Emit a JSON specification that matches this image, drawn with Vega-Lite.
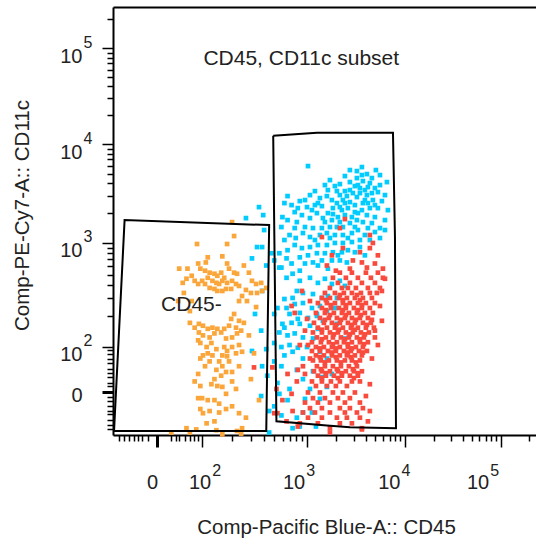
{
"$schema":"https://vega.github.io/schema/vega-lite/v6.json",
"width":423,"height":428,
"autosize":"none",
"padding":{"left":113,"top":7,"right":0,"bottom":104},
"background":"white",
"config":{"view":{"stroke":null},"font":"Liberation Sans"},
"datasets":{
"CD11c_hi":[
{"CD45":1031,"CD11c":5985},{"CD45":3249,"CD11c":5326},{"CD45":4106,"CD11c":4966},{"CD45":3249,"CD11c":4524},{"CD45":6555,"CD11c":4122},{"CD45":2180,"CD11c":3934},{"CD45":4400,"CD11c":4027},{"CD45":4950,"CD11c":3583},{"CD45":1214,"CD11c":3341},{"CD45":2034,"CD11c":3341},{"CD45":2453,"CD11c":3341},{"CD45":3486,"CD11c":3583},{"CD45":3739,"CD11c":4219},{"CD45":5309,"CD11c":3264},{"CD45":664,"CD11c":2974},{"CD45":863,"CD11c":2646},{"CD45":621,"CD11c":2525},{"CD45":724,"CD11c":2410},{"CD45":827,"CD11c":2247},{"CD45":1007,"CD11c":2300},{"CD45":1132,"CD11c":2144},{"CD45":1430,"CD11c":2354},{"CD45":1608,"CD11c":2974},{"CD45":1809,"CD11c":2710},{"CD45":2034,"CD11c":2525},{"CD45":2340,"CD11c":2710},{"CD45":2757,"CD11c":2585},{"CD45":3249,"CD11c":2905},{"CD45":3486,"CD11c":3189},{"CD45":4106,"CD11c":3043},{"CD45":4723,"CD11c":2710},{"CD45":5830,"CD11c":2646},{"CD45":5309,"CD11c":2247},{"CD45":4400,"CD11c":2247},{"CD45":3739,"CD11c":2525},{"CD45":3100,"CD11c":2410},{"CD45":2631,"CD11c":2247},{"CD45":2286,"CD11c":2144},{"CD45":1852,"CD11c":2247},{"CD45":1646,"CD11c":1999},{"CD45":1464,"CD11c":1779},{"CD45":1809,"CD11c":1698},{"CD45":2082,"CD11c":1821},{"CD45":2453,"CD11c":1908},{"CD45":2890,"CD11c":1821},{"CD45":3326,"CD11c":1999},{"CD45":4106,"CD11c":1908},{"CD45":4950,"CD11c":1821},{"CD45":6262,"CD11c":1698},{"CD45":5570,"CD11c":1409},{"CD45":4613,"CD11c":1584},{"CD45":3739,"CD11c":1621},{"CD45":3249,"CD11c":1698},{"CD45":2757,"CD11c":1584},{"CD45":2340,"CD11c":1443},{"CD45":2034,"CD11c":1443},{"CD45":1727,"CD11c":1443},{"CD45":1430,"CD11c":1409},{"CD45":1159,"CD11c":1409},{"CD45":964,"CD11c":1443},{"CD45":810,"CD11c":1621},{"CD45":664,"CD11c":1698},{"CD45":595,"CD11c":1821},{"CD45":582,"CD11c":1443},{"CD45":693,"CD11c":1197},{"CD45":774,"CD11c":1409},{"CD45":923,"CD11c":1254},{"CD45":1080,"CD11c":1142},{"CD45":1365,"CD11c":1197},{"CD45":1608,"CD11c":1254},{"CD45":1941,"CD11c":1197},{"CD45":2340,"CD11c":1197},{"CD45":2890,"CD11c":1254},{"CD45":3326,"CD11c":1345},{"CD45":3917,"CD11c":1197},{"CD45":3486,"CD11c":1065},{"CD45":2890,"CD11c":1016},{"CD45":2340,"CD11c":994},{"CD45":1941,"CD11c":994},{"CD45":1608,"CD11c":951},{"CD45":1302,"CD11c":951},{"CD45":1080,"CD11c":910},{"CD45":903,"CD11c":890},{"CD45":774,"CD11c":951},{"CD45":664,"CD11c":851},{"CD45":557,"CD11c":797},{"CD45":499,"CD11c":682},{"CD45":863,"CD11c":729},{"CD45":1031,"CD11c":762},{"CD45":1272,"CD11c":797},{"CD45":1535,"CD11c":797},{"CD45":1852,"CD11c":814},{"CD45":2286,"CD11c":814},{"CD45":2631,"CD11c":851},{"CD45":3100,"CD11c":814},{"CD45":1159,"CD11c":653},{"CD45":1430,"CD11c":682},{"CD45":1809,"CD11c":682},{"CD45":2180,"CD11c":682},{"CD45":2570,"CD11c":653},{"CD45":964,"CD11c":638},{"CD45":724,"CD11c":638},{"CD45":557,"CD11c":584},{"CD45":469,"CD11c":797},{"CD45":384,"CD11c":910},{"CD45":359,"CD11c":2300},
{"CD45":2453,"CD11c":4740},{"CD45":2757,"CD11c":4122},{"CD45":3100,"CD11c":3754},{"CD45":3917,"CD11c":3420},{"CD45":4613,"CD11c":4524},{"CD45":5570,"CD11c":3843},{"CD45":2570,"CD11c":2974},{"CD45":2958,"CD11c":3189},{"CD45":1941,"CD11c":3754},{"CD45":1646,"CD11c":3420},{"CD45":1365,"CD11c":2838},{"CD45":1302,"CD11c":2525},{"CD45":2180,"CD11c":2300},{"CD45":3652,"CD11c":2144},{"CD45":4203,"CD11c":2525},{"CD45":4950,"CD11c":2410},{"CD45":6710,"CD11c":2144},{"CD45":6262,"CD11c":3043},{"CD45":5570,"CD11c":4852},{"CD45":5066,"CD11c":5452},{"CD45":3652,"CD11c":5847},{"CD45":2757,"CD11c":5452},{"CD45":1727,"CD11c":4317},{"CD45":1535,"CD11c":3843},{"CD45":1080,"CD11c":3043},{"CD45":964,"CD11c":2710},{"CD45":774,"CD11c":2046},{"CD45":903,"CD11c":1908},{"CD45":1080,"CD11c":1779},{"CD45":1272,"CD11c":1999},{"CD45":1535,"CD11c":1621},{"CD45":2180,"CD11c":1621},{"CD45":3100,"CD11c":1443},{"CD45":4203,"CD11c":1409},{"CD45":4950,"CD11c":1284},{"CD45":4400,"CD11c":1065},{"CD45":5570,"CD11c":1116},{"CD45":6262,"CD11c":1345},{"CD45":2631,"CD11c":1116},{"CD45":1727,"CD11c":1116},{"CD45":1214,"CD11c":1065},{"CD45":791,"CD11c":1116},{"CD45":621,"CD11c":1065},{"CD45":3486,"CD11c":910},{"CD45":3917,"CD11c":762},{"CD45":2082,"CD11c":762},{"CD45":1302,"CD11c":611},{"CD45":1646,"CD11c":571},{"CD45":863,"CD11c":546},{"CD45":650,"CD11c":713},{"CD45":3100,"CD11c":2046},{"CD45":2453,"CD11c":2525},{"CD45":1852,"CD11c":1953},{"CD45":3917,"CD11c":2710},{"CD45":4613,"CD11c":3189},{"CD45":3326,"CD11c":3843},{"CD45":2180,"CD11c":3043},{"CD45":1214,"CD11c":2410},{"CD45":2757,"CD11c":3420},{"CD45":3652,"CD11c":4852},{"CD45":4203,"CD11c":3668},
{"CD45":582,"CD11c":584},{"CD45":650,"CD11c":468},{"CD45":740,"CD11c":511},{"CD45":863,"CD11c":438},{"CD45":1080,"CD11c":468},{"CD45":1302,"CD11c":419},{"CD45":1535,"CD11c":458},{"CD45":1809,"CD11c":409},{"CD45":2180,"CD11c":438},{"CD45":2453,"CD11c":392},{"CD45":810,"CD11c":351},{"CD45":923,"CD11c":336},{"CD45":1159,"CD11c":328},{"CD45":1430,"CD11c":301},{"CD45":1646,"CD11c":314},{"CD45":2034,"CD11c":301},{"CD45":740,"CD11c":301},{"CD45":621,"CD11c":294},{"CD45":534,"CD11c":241},{"CD45":650,"CD11c":241},{"CD45":774,"CD11c":263},{"CD45":923,"CD11c":269},{"CD45":1132,"CD11c":241},{"CD45":1365,"CD11c":252},{"CD45":1608,"CD11c":225},{"CD45":1941,"CD11c":241},{"CD45":693,"CD11c":211},{"CD45":863,"CD11c":216},{"CD45":1031,"CD11c":193},{"CD45":1272,"CD11c":202},{"CD45":1464,"CD11c":181},{"CD45":595,"CD11c":169},{"CD45":724,"CD11c":173},{"CD45":863,"CD11c":169},{"CD45":1080,"CD11c":162},{"CD45":1302,"CD11c":151},{"CD45":557,"CD11c":139},{"CD45":664,"CD11c":130},{"CD45":774,"CD11c":136},{"CD45":923,"CD11c":124},{"CD45":1159,"CD11c":121},{"CD45":499,"CD11c":109},{"CD45":582,"CD11c":99},{"CD45":693,"CD11c":104},{"CD45":827,"CD11c":97},{"CD45":1007,"CD11c":99},{"CD45":621,"CD11c":77},{"CD45":740,"CD11c":86},{"CD45":923,"CD11c":70},{"CD45":1608,"CD11c":70},{"CD45":1365,"CD11c":86},{"CD45":582,"CD11c":55},{"CD45":810,"CD11c":48},{"CD45":1159,"CD11c":44},{"CD45":1430,"CD11c":30},{"CD45":923,"CD11c":26},{"CD45":534,"CD11c":19},{"CD45":693,"CD11c":4},{"CD45":1080,"CD11c":4},{"CD45":1608,"CD11c":8},{"CD45":964,"CD11c":-14},{"CD45":1365,"CD11c":-14},{"CD45":557,"CD11c":-3},{"CD45":664,"CD11c":-18},{"CD45":810,"CD11c":-56},{"CD45":740,"CD11c":-78},{"CD45":621,"CD11c":155},{"CD45":827,"CD11c":189},{"CD45":1272,"CD11c":211},{"CD45":2034,"CD11c":169},{"CD45":1809,"CD11c":37},{"CD45":923,"CD11c":-45},{"CD45":499,"CD11c":-30},{"CD45":2453,"CD11c":121},
{"CD45":393,"CD11c":1908},{"CD45":270,"CD11c":1779},{"CD45":401,"CD11c":1345},{"CD45":344,"CD11c":910},{"CD45":308,"CD11c":713},{"CD45":329,"CD11c":211},{"CD45":308,"CD11c":88},{"CD45":384,"CD11c":55},{"CD45":376,"CD11c":-7},{"CD45":447,"CD11c":-41},{"CD45":384,"CD11c":351},{"CD45":376,"CD11c":145},{"CD45":499,"CD11c":211},{"CD45":420,"CD11c":93},{"CD45":499,"CD11c":64},{"CD45":429,"CD11c":33},{"CD45":420,"CD11c":611},{"CD45":447,"CD11c":-89},{"CD45":1243,"CD11c":-74},{"CD45":582,"CD11c":-52},{"CD45":863,"CD11c":-74},{"CD45":1132,"CD11c":-45}
],
"CD11c_lo":[
{"CD45":2180,"CD11c":523},{"CD45":2890,"CD11c":523},{"CD45":4010,"CD11c":523},{"CD45":5309,"CD11c":523},
{"CD45":1852,"CD11c":468},{"CD45":2510,"CD11c":468},{"CD45":3326,"CD11c":468},{"CD45":4506,"CD11c":468},{"CD45":5970,"CD11c":468},
{"CD45":2082,"CD11c":419},{"CD45":2757,"CD11c":419},{"CD45":3652,"CD11c":419},{"CD45":4950,"CD11c":419},
{"CD45":1727,"CD11c":375},{"CD45":2286,"CD11c":375},{"CD45":2631,"CD11c":375},{"CD45":3173,"CD11c":375},{"CD45":4203,"CD11c":375},{"CD45":5570,"CD11c":375},
{"CD45":1535,"CD11c":336},{"CD45":1941,"CD11c":336},{"CD45":2395,"CD11c":336},{"CD45":2890,"CD11c":336},{"CD45":3568,"CD11c":336},{"CD45":4400,"CD11c":336},{"CD45":5186,"CD11c":336},
{"CD45":1430,"CD11c":301},{"CD45":1727,"CD11c":301},{"CD45":2131,"CD11c":301},{"CD45":2570,"CD11c":301},{"CD45":3100,"CD11c":301},{"CD45":3739,"CD11c":301},{"CD45":4613,"CD11c":301},
{"CD45":1302,"CD11c":269},{"CD45":1608,"CD11c":269},{"CD45":1941,"CD11c":269},{"CD45":2340,"CD11c":269},{"CD45":2757,"CD11c":269},{"CD45":3326,"CD11c":269},{"CD45":4010,"CD11c":269},{"CD45":4950,"CD11c":269},
{"CD45":1430,"CD11c":241},{"CD45":1767,"CD11c":241},{"CD45":2131,"CD11c":241},{"CD45":2510,"CD11c":241},{"CD45":3028,"CD11c":241},{"CD45":3652,"CD11c":241},{"CD45":4400,"CD11c":241},
{"CD45":1243,"CD11c":216},{"CD45":1535,"CD11c":216},{"CD45":1895,"CD11c":216},{"CD45":2286,"CD11c":216},{"CD45":2693,"CD11c":216},{"CD45":3249,"CD11c":216},{"CD45":3917,"CD11c":216},{"CD45":4723,"CD11c":216},
{"CD45":1365,"CD11c":193},{"CD45":1685,"CD11c":193},{"CD45":2034,"CD11c":193},{"CD45":2453,"CD11c":193},{"CD45":2890,"CD11c":193},{"CD45":3486,"CD11c":193},{"CD45":4203,"CD11c":193},
{"CD45":1186,"CD11c":173},{"CD45":1499,"CD11c":173},{"CD45":1809,"CD11c":173},{"CD45":2180,"CD11c":173},{"CD45":2631,"CD11c":173},{"CD45":3100,"CD11c":173},{"CD45":3739,"CD11c":173},{"CD45":4506,"CD11c":173},
{"CD45":1302,"CD11c":155},{"CD45":1608,"CD11c":155},{"CD45":1941,"CD11c":155},{"CD45":2340,"CD11c":155},{"CD45":2823,"CD11c":155},{"CD45":3326,"CD11c":155},{"CD45":4010,"CD11c":155},{"CD45":4834,"CD11c":155},
{"CD45":1159,"CD11c":139},{"CD45":1430,"CD11c":139},{"CD45":1727,"CD11c":139},{"CD45":2082,"CD11c":139},{"CD45":2510,"CD11c":139},{"CD45":2958,"CD11c":139},{"CD45":3568,"CD11c":139},{"CD45":4302,"CD11c":139},
{"CD45":1272,"CD11c":124},{"CD45":1571,"CD11c":124},{"CD45":1852,"CD11c":124},{"CD45":2233,"CD11c":124},{"CD45":2693,"CD11c":124},{"CD45":3249,"CD11c":124},{"CD45":3828,"CD11c":124},{"CD45":4950,"CD11c":124},
{"CD45":1132,"CD11c":111},{"CD45":1397,"CD11c":111},{"CD45":1685,"CD11c":111},{"CD45":2034,"CD11c":111},{"CD45":2395,"CD11c":111},{"CD45":2890,"CD11c":111},{"CD45":3486,"CD11c":111},{"CD45":4203,"CD11c":111},
{"CD45":1243,"CD11c":99},{"CD45":1499,"CD11c":99},{"CD45":1809,"CD11c":99},{"CD45":2180,"CD11c":99},{"CD45":2631,"CD11c":99},{"CD45":3173,"CD11c":99},{"CD45":3739,"CD11c":99},
{"CD45":1132,"CD11c":88},{"CD45":1365,"CD11c":88},{"CD45":1646,"CD11c":88},{"CD45":1986,"CD11c":88},{"CD45":2395,"CD11c":88},{"CD45":2823,"CD11c":88},{"CD45":3405,"CD11c":88},{"CD45":4106,"CD11c":88},
{"CD45":1243,"CD11c":77},{"CD45":1499,"CD11c":77},{"CD45":1809,"CD11c":77},{"CD45":2180,"CD11c":77},{"CD45":2570,"CD11c":77},{"CD45":3100,"CD11c":77},{"CD45":3652,"CD11c":77},
{"CD45":1159,"CD11c":66},{"CD45":1397,"CD11c":66},{"CD45":1685,"CD11c":66},{"CD45":2034,"CD11c":66},{"CD45":2453,"CD11c":66},{"CD45":2890,"CD11c":66},{"CD45":3486,"CD11c":66},
{"CD45":1272,"CD11c":55},{"CD45":1535,"CD11c":55},{"CD45":1852,"CD11c":55},{"CD45":2233,"CD11c":55},{"CD45":2693,"CD11c":55},{"CD45":3249,"CD11c":55},
{"CD45":1186,"CD11c":44},{"CD45":1430,"CD11c":44},{"CD45":1727,"CD11c":44},{"CD45":2082,"CD11c":44},{"CD45":2510,"CD11c":44},{"CD45":3028,"CD11c":44},{"CD45":3652,"CD11c":44},
{"CD45":1302,"CD11c":33},{"CD45":1571,"CD11c":33},{"CD45":1895,"CD11c":33},{"CD45":2286,"CD11c":33},{"CD45":2757,"CD11c":33},{"CD45":3326,"CD11c":33},
{"CD45":1132,"CD11c":22},{"CD45":1430,"CD11c":22},{"CD45":1767,"CD11c":22},{"CD45":2180,"CD11c":22},{"CD45":2890,"CD11c":22},{"CD45":3486,"CD11c":22},
{"CD45":1243,"CD11c":10},{"CD45":1608,"CD11c":10},{"CD45":1986,"CD11c":10},{"CD45":2570,"CD11c":10},
{"CD45":1031,"CD11c":-1},{"CD45":1365,"CD11c":-1},{"CD45":1852,"CD11c":-1},{"CD45":2340,"CD11c":-1},{"CD45":3100,"CD11c":-1},
{"CD45":1159,"CD11c":-12},{"CD45":1535,"CD11c":-12},{"CD45":2082,"CD11c":-12},{"CD45":2757,"CD11c":-12},
{"CD45":964,"CD11c":-23},{"CD45":1302,"CD11c":-23},{"CD45":1727,"CD11c":-23},{"CD45":2453,"CD11c":-23},{"CD45":3486,"CD11c":-23},
{"CD45":1080,"CD11c":-34},{"CD45":1430,"CD11c":-34},{"CD45":2180,"CD11c":-34},{"CD45":2757,"CD11c":-34},{"CD45":3739,"CD11c":-34},
{"CD45":923,"CD11c":-45},{"CD45":1214,"CD11c":-45},{"CD45":1727,"CD11c":-45},{"CD45":2453,"CD11c":-45},{"CD45":3249,"CD11c":-45},
{"CD45":1031,"CD11c":-56},{"CD45":1430,"CD11c":-56},{"CD45":2034,"CD11c":-56},{"CD45":2570,"CD11c":-56},{"CD45":3486,"CD11c":-56},
{"CD45":863,"CD11c":-67},{"CD45":1302,"CD11c":-67},{"CD45":2180,"CD11c":-67},{"CD45":2890,"CD11c":-67},
{"CD45":1727,"CD11c":-78},{"CD45":3652,"CD11c":-78},
{"CD45":2180,"CD11c":321},{"CD45":3249,"CD11c":321},
{"CD45":1571,"CD11c":287},{"CD45":2340,"CD11c":287},{"CD45":3486,"CD11c":287},
{"CD45":1767,"CD11c":257},{"CD45":2510,"CD11c":257},{"CD45":3652,"CD11c":257},
{"CD45":1571,"CD11c":230},{"CD45":2340,"CD11c":230},{"CD45":3326,"CD11c":230},
{"CD45":1727,"CD11c":206},{"CD45":2510,"CD11c":206},{"CD45":3568,"CD11c":206},
{"CD45":1535,"CD11c":185},{"CD45":2233,"CD11c":185},{"CD45":3173,"CD11c":185},{"CD45":4613,"CD11c":185},
{"CD45":1986,"CD11c":165},{"CD45":2890,"CD11c":165},{"CD45":4106,"CD11c":165},
{"CD45":1430,"CD11c":148},{"CD45":2131,"CD11c":148},{"CD45":3100,"CD11c":148},
{"CD45":1895,"CD11c":133},{"CD45":2757,"CD11c":133},{"CD45":3917,"CD11c":133},
{"CD45":1430,"CD11c":119},{"CD45":2453,"CD11c":119},{"CD45":3486,"CD11c":119},
{"CD45":1852,"CD11c":106},{"CD45":2631,"CD11c":106},{"CD45":3828,"CD11c":106},
{"CD45":1365,"CD11c":95},{"CD45":1986,"CD11c":95},{"CD45":2890,"CD11c":95},
{"CD45":1809,"CD11c":84},{"CD45":2631,"CD11c":84},{"CD45":3739,"CD11c":84},
{"CD45":1365,"CD11c":73},{"CD45":1986,"CD11c":73},{"CD45":2823,"CD11c":73},
{"CD45":1535,"CD11c":62},{"CD45":2233,"CD11c":62},{"CD45":3173,"CD11c":62},
{"CD45":1397,"CD11c":50},{"CD45":2034,"CD11c":50},{"CD45":2958,"CD11c":50},
{"CD45":1571,"CD11c":39},{"CD45":2286,"CD11c":39},{"CD45":3326,"CD11c":39},
{"CD45":1430,"CD11c":28},{"CD45":2082,"CD11c":28},{"CD45":3028,"CD11c":28},
{"CD45":2453,"CD11c":1738},{"CD45":2180,"CD11c":1409},{"CD45":1430,"CD11c":1142},{"CD45":4723,"CD11c":994},{"CD45":4400,"CD11c":890},{"CD45":3486,"CD11c":814},{"CD45":1809,"CD11c":762},{"CD45":2958,"CD11c":682},{"CD45":4950,"CD11c":638},{"CD45":4106,"CD11c":584},{"CD45":1608,"CD11c":611},{"CD45":2340,"CD11c":890},{"CD45":4400,"CD11c":1197},{"CD45":5309,"CD11c":762},{"CD45":3652,"CD11c":653},{"CD45":2757,"CD11c":571},{"CD45":1986,"CD11c":546},{"CD45":5970,"CD11c":571},
{"CD45":6262,"CD11c":458},{"CD45":5830,"CD11c":351},{"CD45":5570,"CD11c":252},{"CD45":5830,"CD11c":181},{"CD45":5309,"CD11c":104},{"CD45":4613,"CD11c":70},{"CD45":4400,"CD11c":15},{"CD45":4010,"CD11c":-7},{"CD45":4400,"CD11c":-41},{"CD45":4203,"CD11c":-63},{"CD45":4950,"CD11c":145},
{"CD45":724,"CD11c":252},{"CD45":774,"CD11c":216},{"CD45":1007,"CD11c":189},{"CD45":923,"CD11c":55},{"CD45":827,"CD11c":48},{"CD45":810,"CD11c":22},{"CD45":724,"CD11c":-3},{"CD45":479,"CD11c":53},{"CD45":523,"CD11c":4},{"CD45":534,"CD11c":-47},{"CD45":322,"CD11c":53},{"CD45":863,"CD11c":104},{"CD45":964,"CD11c":145},{"CD45":664,"CD11c":37},{"CD45":595,"CD11c":-18},{"CD45":740,"CD11c":-41},{"CD45":1080,"CD11c":281},{"CD45":903,"CD11c":351},{"CD45":650,"CD11c":-63},{"CD45":827,"CD11c":-74},{"CD45":1727,"CD11c":-89},{"CD45":3652,"CD11c":-81},{"CD45":499,"CD11c":-47},{"CD45":1080,"CD11c":70},{"CD45":964,"CD11c":37},{"CD45":1031,"CD11c":104}
],
"CD45_neg":[
{"CD45":199,"CD11c":1621},{"CD45":208,"CD11c":1169},{"CD45":87,"CD11c":972},{"CD45":178,"CD11c":972},{"CD45":115,"CD11c":729},{"CD45":160,"CD11c":745},{"CD45":110,"CD11c":653},{"CD45":90,"CD11c":638},{"CD45":178,"CD11c":638},{"CD45":50,"CD11c":571},{"CD45":65,"CD11c":571},{"CD45":96,"CD11c":571},{"CD45":108,"CD11c":546},{"CD45":120,"CD11c":523},{"CD45":134,"CD11c":511},{"CD45":143,"CD11c":489},{"CD45":156,"CD11c":523},{"CD45":167,"CD11c":468},{"CD45":186,"CD11c":571},{"CD45":208,"CD11c":523},{"CD45":222,"CD11c":511},{"CD45":115,"CD11c":468},{"CD45":128,"CD11c":438},{"CD45":140,"CD11c":419},{"CD45":149,"CD11c":409},{"CD45":160,"CD11c":438},{"CD45":178,"CD11c":419},{"CD45":199,"CD11c":438},{"CD45":217,"CD11c":409},{"CD45":232,"CD11c":392},{"CD45":101,"CD11c":438},{"CD45":108,"CD11c":409},{"CD45":120,"CD11c":375},{"CD45":134,"CD11c":367},{"CD45":143,"CD11c":351},{"CD45":160,"CD11c":351},{"CD45":174,"CD11c":367},{"CD45":195,"CD11c":367},{"CD45":74,"CD11c":489},{"CD45":81,"CD11c":438},{"CD45":90,"CD11c":409},{"CD45":63,"CD11c":458},{"CD45":56,"CD11c":419},{"CD45":308,"CD11c":438},{"CD45":337,"CD11c":409},{"CD45":376,"CD11c":419},{"CD45":420,"CD11c":375},{"CD45":384,"CD11c":351},{"CD45":344,"CD11c":336},{"CD45":301,"CD11c":336},{"CD45":270,"CD11c":359},{"CD45":248,"CD11c":314},{"CD45":276,"CD11c":281},{"CD45":232,"CD11c":281},{"CD45":337,"CD11c":246},{"CD45":208,"CD11c":211},{"CD45":195,"CD11c":189},{"CD45":232,"CD11c":181},{"CD45":186,"CD11c":162},{"CD45":217,"CD11c":155},{"CD45":243,"CD11c":145},{"CD45":222,"CD11c":136},{"CD45":199,"CD11c":124},{"CD45":174,"CD11c":121},{"CD45":167,"CD11c":151},{"CD45":70,"CD11c":173},{"CD45":81,"CD11c":155},{"CD45":92,"CD11c":169},{"CD45":103,"CD11c":162},{"CD45":115,"CD11c":151},{"CD45":128,"CD11c":155},{"CD45":143,"CD11c":151},{"CD45":156,"CD11c":139},{"CD45":92,"CD11c":139},{"CD45":103,"CD11c":130},{"CD45":120,"CD11c":124},{"CD45":134,"CD11c":136},{"CD45":90,"CD11c":116},{"CD45":96,"CD11c":109},{"CD45":112,"CD11c":99},{"CD45":125,"CD11c":109},{"CD45":140,"CD11c":93},{"CD45":167,"CD11c":99},{"CD45":178,"CD11c":88},{"CD45":199,"CD11c":99},{"CD45":232,"CD11c":104},{"CD45":217,"CD11c":82},{"CD45":248,"CD11c":86},{"CD45":178,"CD11c":75},{"CD45":160,"CD11c":77},{"CD45":149,"CD11c":64},{"CD45":128,"CD11c":77},{"CD45":115,"CD11c":82},{"CD45":103,"CD11c":77},{"CD45":96,"CD11c":70},{"CD45":108,"CD11c":55},{"CD45":120,"CD11c":64},{"CD45":140,"CD11c":48},{"CD45":160,"CD11c":55},{"CD45":186,"CD11c":64},{"CD45":199,"CD11c":42},{"CD45":174,"CD11c":42},{"CD45":156,"CD11c":33},{"CD45":134,"CD11c":26},{"CD45":125,"CD11c":15},{"CD45":143,"CD11c":10},{"CD45":160,"CD11c":8},{"CD45":174,"CD11c":-3},{"CD45":199,"CD11c":22},{"CD45":217,"CD11c":4},{"CD45":232,"CD11c":55},{"CD45":81,"CD11c":22},{"CD45":90,"CD11c":37},{"CD45":96,"CD11c":10},{"CD45":101,"CD11c":-12},{"CD45":115,"CD11c":-18},{"CD45":134,"CD11c":-18},{"CD45":149,"CD11c":-25},{"CD45":120,"CD11c":-41},{"CD45":96,"CD11c":-36},{"CD45":90,"CD11c":-12},{"CD45":103,"CD11c":-47},{"CD45":112,"CD11c":-67},{"CD45":134,"CD11c":-63},{"CD45":149,"CD11c":-45},{"CD45":174,"CD11c":-36},{"CD45":199,"CD11c":-30},{"CD45":232,"CD11c":-47},{"CD45":270,"CD11c":-56},{"CD45":222,"CD11c":-85},{"CD45":248,"CD11c":-78},{"CD45":63,"CD11c":-78},{"CD45":70,"CD11c":-89},{"CD45":30,"CD11c":-89},{"CD45":85,"CD11c":-81},{"CD45":140,"CD11c":-83},{"CD45":160,"CD11c":-94},{"CD45":243,"CD11c":-92},
{"CD45":258,"CD11c":611},{"CD45":288,"CD11c":523},{"CD45":58,"CD11c":336},{"CD45":47,"CD11c":281},{"CD45":74,"CD11c":281},{"CD45":70,"CD11c":225},{"CD45":258,"CD11c":173},{"CD45":288,"CD11c":130},{"CD45":322,"CD11c":82},{"CD45":301,"CD11c":26},{"CD45":359,"CD11c":-18}
],
"gates":[
{"gate":"CD45-","i":0,"CD45":-94,"CD11c":-85},{"gate":"CD45-","i":1,"CD45":-68,"CD11c":1698},{"gate":"CD45-","i":2,"CD45":447,"CD11c":1511},{"gate":"CD45-","i":3,"CD45":420,"CD11c":-85},{"gate":"CD45-","i":4,"CD45":-94,"CD11c":-85},
{"gate":"CD45+","i":0,"CD45":488,"CD11c":12210},{"gate":"CD45+","i":1,"CD45":1272,"CD11c":13125},{"gate":"CD45+","i":2,"CD45":7550,"CD11c":13125},{"gate":"CD45+","i":3,"CD45":7910,"CD11c":1150},{"gate":"CD45+","i":4,"CD45":8100,"CD11c":-78},{"gate":"CD45+","i":5,"CD45":2757,"CD11c":-76},{"gate":"CD45+","i":6,"CD45":1608,"CD11c":-72},{"gate":"CD45+","i":7,"CD45":523,"CD11c":-63},{"gate":"CD45+","i":8,"CD45":488,"CD11c":12210}
],
"labels":[
{"label":"CD45-","CD45":7,"CD11c":223},
{"label":"CD45, CD11c subset","CD45":104,"CD11c":66800}
]
},
"layer":[
{"data":{"name":"CD11c_hi"},
"mark":{"type":"square","size":22,"color":"#00CCFF","opacity":1},
"encoding":{
"x":{"field":"CD45","type":"quantitative",
"scale":{"type":"symlog","constant":10,"domain":[-97,-50,-20,0,20,50,100,1000,10000,100000,234000],"range":[0,21.2,34.7,43.7,52.7,66.2,88.7,193.7,292,387.7,423],"nice":false,"zero":false},
"axis":{"orient":"bottom","values":[0,100,1000,10000,100000],"labelExpr":"datum.value === 0 ? '0' : '10'","grid":false,"domain":true,"domainColor":"#000","domainWidth":2,"ticks":true,"tickColor":"#000","tickSize":12,"tickWidth":{"condition":{"test":"datum.value === 0","value":3},"value":1.5},"labelFont":"Liberation Sans","labelFontSize":20,"labelColor":"#222","labelAlign":"right","labelBaseline":"alphabetic","labelPadding":41,"labelOffset":{"condition":[{"test":"datum.value === 100","value":9},{"test":"datum.value === 1000","value":-2},{"test":"datum.value === 10000","value":-5},{"test":"datum.value === 100000","value":-12}],"value":1},"labelFlush":false,"labelOverlap":false,"labelBound":false,"title":"Comp-Pacific Blue-A:: CD45","titleFont":"Liberation Sans","titleFontSize":20.5,"titleFontWeight":"normal","titleColor":"#222","titleBaseline":"alphabetic","titleAlign":"center","titleX":213,"titleY":98}},
"y":{"field":"CD11c","type":"quantitative",
"scale":{"type":"symlog","constant":10,"domain":[-96,-50,-20,0,20,50,100,1000,10000,100000,270000],"range":[428,407.2,393.7,384.7,375.7,362.2,339.7,235.7,137,41.3,0],"nice":false,"zero":false},
"axis":{"orient":"left","values":[0,100,1000,10000,100000],"labelExpr":"datum.value === 0 ? '0' : '10'","grid":false,"domain":true,"domainColor":"#000","domainWidth":2,"ticks":true,"tickColor":"#000","tickSize":11,"tickWidth":{"condition":{"test":"datum.value === 0","value":3},"value":1.5},"labelFont":"Liberation Sans","labelFontSize":20,"labelColor":"#222","labelAlign":"right","labelBaseline":"alphabetic","labelOffset":{"condition":{"test":"datum.value === 0","value":10},"value":14},"labelPadding":20,"labelFlush":false,"labelOverlap":false,"labelBound":false,"title":"Comp-PE-Cy7-A:: CD11c","titleFont":"Liberation Sans","titleFontSize":20.5,"titleFontWeight":"normal","titleColor":"#222","titleAngle":-90,"titleBaseline":"alphabetic","titleAlign":"center","titleX":-85,"titleY":208}}
}},
{"data":{"name":"CD11c_lo"},
"mark":{"type":"square","size":22,"color":"#F84B3E","opacity":1},
"encoding":{
"x":{"field":"CD45","type":"quantitative",
"scale":{"type":"symlog","constant":10,"domain":[-97,-50,-20,0,20,50,100,1000,10000,100000,234000],"range":[0,21.2,34.7,43.7,52.7,66.2,88.7,193.7,292,387.7,423],"nice":false,"zero":false},
"axis":{"orient":"bottom","values":[-80,-70,-60,-50,-40,-30,-20,30,40,50,60,70,80,90,200,300,400,500,600,700,800,900,2000,3000,4000,5000,6000,7000,8000,9000,20000,30000,40000,50000,60000,70000,80000,90000,200000],"labels":false,"domain":false,"grid":false,"ticks":true,"tickColor":"#000","tickSize":6,"tickWidth":1.5,"title":null}},
"y":{"field":"CD11c","type":"quantitative",
"scale":{"type":"symlog","constant":10,"domain":[-96,-50,-20,0,20,50,100,1000,10000,100000,270000],"range":[428,407.2,393.7,384.7,375.7,362.2,339.7,235.7,137,41.3,0],"nice":false,"zero":false},
"axis":{"orient":"left","values":[-80,-70,-60,-50,-40,-30,-20,-10,10,20,30,40,50,60,70,80,90,200,300,400,500,600,700,800,900,2000,3000,4000,5000,6000,7000,8000,9000,20000,30000,40000,50000,60000,70000,80000,90000,200000],"labels":false,"domain":false,"grid":false,"ticks":true,"tickColor":"#000","tickSize":6,"tickWidth":1.5,"title":null}}
}},
{"data":{"name":"CD45_neg"},
"mark":{"type":"square","size":22,"color":"#FBA63A","opacity":1},
"encoding":{
"x":{"field":"CD45","type":"quantitative",
"scale":{"type":"symlog","constant":10,"domain":[-97,-50,-20,0,20,50,100,1000,10000,100000,234000],"range":[0,21.2,34.7,43.7,52.7,66.2,88.7,193.7,292,387.7,423],"nice":false,"zero":false},
"axis":{"orient":"top","domain":true,"domainColor":"#000","domainWidth":2,"ticks":false,"labels":false,"grid":false,"title":null}},
"y":{"field":"CD11c","type":"quantitative",
"scale":{"type":"symlog","constant":10,"domain":[-96,-50,-20,0,20,50,100,1000,10000,100000,270000],"range":[428,407.2,393.7,384.7,375.7,362.2,339.7,235.7,137,41.3,0],"nice":false,"zero":false},
"axis":null}
}},
{"data":{"name":"gates"},
"mark":{"type":"line","color":"#000","strokeWidth":2},
"encoding":{
"x":{"field":"CD45","type":"quantitative",
"scale":{"type":"symlog","constant":10,"domain":[-97,-50,-20,0,20,50,100,1000,10000,100000,234000],"range":[0,21.2,34.7,43.7,52.7,66.2,88.7,193.7,292,387.7,423],"nice":false,"zero":false},
"axis":{"orient":"bottom","values":[100,1000,10000,100000],"labelExpr":"datum.value === 100 ? '2' : datum.value === 1000 ? '3' : datum.value === 10000 ? '4' : '5'","ticks":false,"tickSize":0,"domain":false,"grid":false,"labelFont":"Liberation Sans","labelFontSize":16,"labelColor":"#222","labelAlign":"left","labelBaseline":"alphabetic","labelPadding":40,"labelOffset":{"condition":[{"test":"datum.value === 100","value":10},{"test":"datum.value === 1000","value":-1},{"test":"datum.value === 10000","value":-4},{"test":"datum.value === 100000","value":-11}],"value":0},"labelFlush":false,"labelOverlap":false,"labelBound":false,"title":null}},
"y":{"field":"CD11c","type":"quantitative",
"scale":{"type":"symlog","constant":10,"domain":[-96,-50,-20,0,20,50,100,1000,10000,100000,270000],"range":[428,407.2,393.7,384.7,375.7,362.2,339.7,235.7,137,41.3,0],"nice":false,"zero":false},
"axis":{"orient":"left","values":[100,1000,10000,100000],"labelExpr":"datum.value === 100 ? '2' : datum.value === 1000 ? '3' : datum.value === 10000 ? '4' : '5'","ticks":false,"tickSize":0,"domain":false,"grid":false,"labelFont":"Liberation Sans","labelFontSize":16,"labelColor":"#222","labelAlign":"left","labelBaseline":"alphabetic","labelPadding":30,"labelOffset":-1,"labelFlush":false,"labelOverlap":false,"labelBound":false,"title":null}},
"detail":{"field":"gate","type":"nominal"},
"order":{"field":"i","type":"quantitative"}
}},
{"data":{"name":"labels"},
"mark":{"type":"text","align":"left","baseline":"alphabetic","font":"Liberation Sans","fontSize":21,"color":"#222"},
"encoding":{
"x":{"field":"CD45","type":"quantitative",
"scale":{"type":"symlog","constant":10,"domain":[-97,-50,-20,0,20,50,100,1000,10000,100000,234000],"range":[0,21.2,34.7,43.7,52.7,66.2,88.7,193.7,292,387.7,423],"nice":false,"zero":false},"axis":null},
"y":{"field":"CD11c","type":"quantitative",
"scale":{"type":"symlog","constant":10,"domain":[-96,-50,-20,0,20,50,100,1000,10000,100000,270000],"range":[428,407.2,393.7,384.7,375.7,362.2,339.7,235.7,137,41.3,0],"nice":false,"zero":false},"axis":null},
"text":{"field":"label","type":"nominal"}
}}
],
"resolve":{"axis":{"x":"independent","y":"independent"}}
}
